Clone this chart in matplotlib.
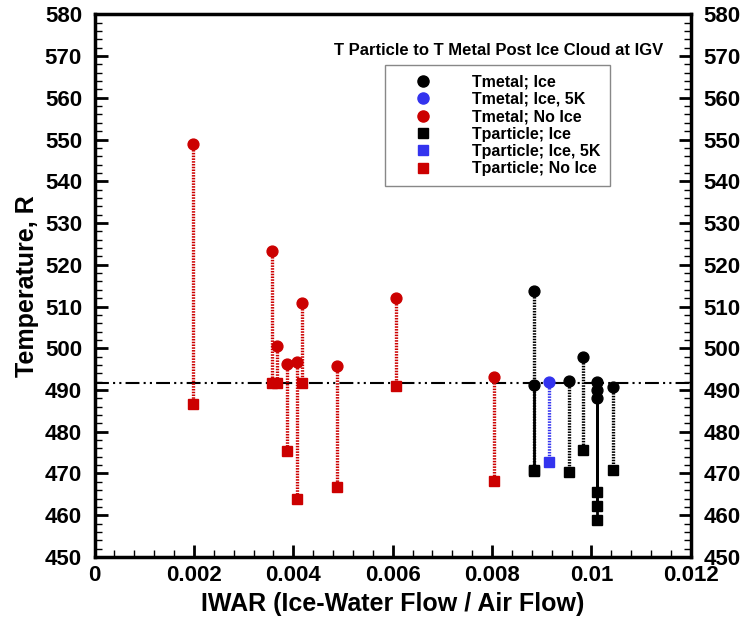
import matplotlib
matplotlib.use("Agg")
import matplotlib.pyplot as plt
from matplotlib.ticker import MultipleLocator, FuncFormatter
from matplotlib.lines import Line2D

plt.rcParams['font.family'] = ['Liberation Sans', 'DejaVu Sans']
plt.rcParams['font.weight'] = 'bold'
plt.rcParams['lines.scale_dashes'] = False

# ---- data ----
noice_x = [0.00199, 0.00358, 0.00368, 0.00387, 0.00408, 0.00418, 0.00488, 0.00607, 0.00804]
noice_tmetal = [548.9, 523.3, 500.6, 496.2, 496.7, 510.9, 495.7, 512.0, 493.1]
noice_tparticle = [486.7, 491.6, 491.6, 475.4, 463.8, 491.6, 466.8, 491.0, 468.3]

ice_x = [0.00884, 0.00884, 0.00954, 0.00984, 0.01012, 0.01012, 0.01012, 0.01043]
ice_tmetal = [513.8, 491.2, 492.2, 497.8, 492.0, 490.0, 488.0, 490.7]
ice_tparticle = [470.8, 470.6, 470.4, 475.6, 465.6, 462.3, 458.9, 470.8]
ice_solid = [False, True, False, False, True, True, True, False]

ice5k_x = [0.00914]
ice5k_tmetal = [491.9]
ice5k_tparticle = [472.8]

freezing_R = 491.67

legend_labels = ["Tmetal; Ice", "Tmetal; Ice, 5K", "Tmetal; No Ice",
                 "Tparticle; Ice", "Tparticle; Ice, 5K", "Tparticle; No Ice"]

RED = '#cc0000'
BLUE = '#3333ee'
BLACK = '#000000'

fig = plt.figure(figsize=(7.4, 6.24), dpi=100)
ax = fig.add_axes([0.1278, 0.1074, 0.8057, 0.8697])

dotted = (0, (1.1, 0.9))

# reference line
ax.plot([0, 0.012], [freezing_R, freezing_R], color='black', lw=1.5,
        dashes=(10, 3, 1.5, 3, 1.5, 3), zorder=1)

# connecting lines
for x, a, b in zip(noice_x, noice_tmetal, noice_tparticle):
    ax.plot([x, x], [a, b], color=RED, lw=2.4, linestyle=dotted, zorder=2)
for x, a, b, s in zip(ice_x, ice_tmetal, ice_tparticle, ice_solid):
    ax.plot([x, x], [a, b], color=BLACK, lw=2.4 if not s else 2.0,
            linestyle='-' if s else dotted, zorder=2)
for x, a, b in zip(ice5k_x, ice5k_tmetal, ice5k_tparticle):
    ax.plot([x, x], [a, b], color=BLUE, lw=2.4, linestyle=dotted, zorder=2)

ms = 7.8
ax.plot(ice_x, ice_tmetal, 'o', color=BLACK, ms=ms, zorder=3)
ax.plot(ice5k_x, ice5k_tmetal, 'o', color=BLUE, ms=ms, zorder=3)
ax.plot(noice_x, noice_tmetal, 'o', color=RED, ms=ms, zorder=3)
ax.plot(ice_x, ice_tparticle, 's', color=BLACK, ms=ms - 0.6, zorder=3)
ax.plot(ice5k_x, ice5k_tparticle, 's', color=BLUE, ms=ms - 0.6, zorder=3)
ax.plot(noice_x, noice_tparticle, 's', color=RED, ms=ms - 0.6, zorder=3)

handles = [
    Line2D([], [], marker='o', ls='none', color=BLACK, ms=8),
    Line2D([], [], marker='o', ls='none', color=BLUE, ms=8),
    Line2D([], [], marker='o', ls='none', color=RED, ms=8),
    Line2D([], [], marker='s', ls='none', color=BLACK, ms=7),
    Line2D([], [], marker='s', ls='none', color=BLUE, ms=7),
    Line2D([], [], marker='s', ls='none', color=RED, ms=7),
]
leg = ax.legend(handles, legend_labels, loc='upper left',
                bbox_to_anchor=(0.487, 0.907), fancybox=False, framealpha=1,
                edgecolor='#888888', prop={'weight': 'bold', 'size': 11.5},
                handletextpad=1.25, borderpad=0.6, labelspacing=0.15,
                handlelength=3.6, borderaxespad=0)
leg.get_frame().set_linewidth(1.0)

ax.text(0.953, 0.934, "T Particle to T Metal Post Ice Cloud at IGV",
        transform=ax.transAxes, ha='right', va='center', fontsize=12,
        fontweight='bold')

ax.set_xlim(0, 0.012)
ax.set_ylim(450, 580)
ax.xaxis.set_major_locator(MultipleLocator(0.002))
ax.xaxis.set_minor_locator(MultipleLocator(0.0004))
ax.yaxis.set_major_locator(MultipleLocator(10))
ax.yaxis.set_minor_locator(MultipleLocator(2))

def xfmt(v, pos):
    if abs(v) < 1e-12:
        return "0"
    return ("%.3f" % v).rstrip('0')
ax.xaxis.set_major_formatter(FuncFormatter(xfmt))

ax.tick_params(axis='both', which='major', direction='in', length=9, width=2,
               labelsize=16)
ax.tick_params(axis='both', which='minor', direction='in', length=5, width=1)
ax.tick_params(axis='y', which='both', left=True, right=True, labelleft=True,
               labelright=True, pad=9)
ax.tick_params(axis='x', which='both', top=False, bottom=True, pad=6)
for sp in ax.spines.values():
    sp.set_linewidth(2.5)

ax.set_xlabel("IWAR (Ice-Water Flow / Air Flow)", fontsize=18, fontweight='bold',
              labelpad=4)
ax.set_ylabel("Temperature, R", fontsize=18, fontweight='bold', labelpad=4)

fig.savefig("out.png", dpi=100)
